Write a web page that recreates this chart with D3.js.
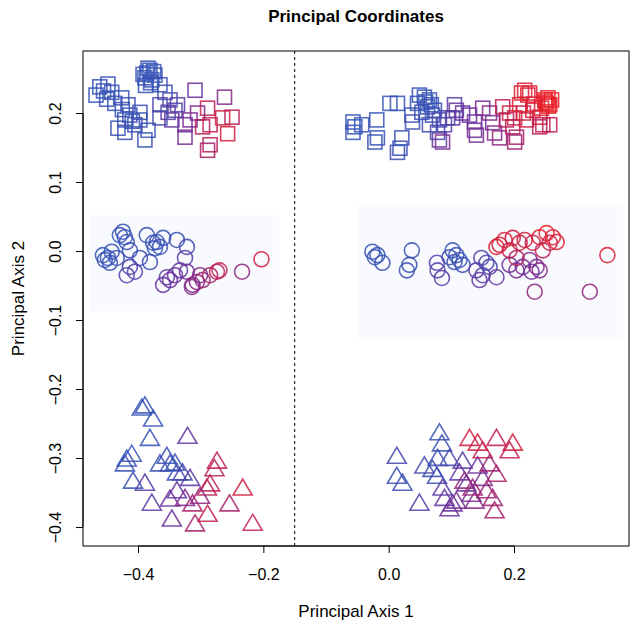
<!DOCTYPE html>
<html><head><meta charset="utf-8">
<script src="https://cdn.jsdelivr.net/npm/d3@7"></script>
<style>body{margin:0;background:#fff}svg{display:block}text{font-family:"Liberation Sans",Arial,sans-serif}</style>
</head><body>
<svg id="c" width="630" height="624"></svg>
<script>
// [axis1, axis2, colour position 0=blue .. 1=red]
const squaresLeft = [
[-0.461,0.238,0.1],[-0.448,0.242,0.1],[-0.442,0.230,0.15],[-0.467,0.226,0.1],[-0.426,0.222,0.15],
[-0.416,0.212,0.2],[-0.437,0.214,0.15],[-0.413,0.197,0.2],[-0.421,0.190,0.15],[-0.386,0.258,0.1],
[-0.381,0.262,0.1],[-0.389,0.251,0.1],[-0.378,0.248,0.12],[-0.373,0.255,0.1],[-0.384,0.265,0.1],
[-0.365,0.241,0.2],[-0.357,0.230,0.25],[-0.349,0.219,0.3],[-0.432,0.178,0.15],[-0.421,0.172,0.2],
[-0.405,0.183,0.25],[-0.397,0.190,0.2],[-0.384,0.175,0.15],[-0.389,0.161,0.15],[-0.365,0.212,0.35],
[-0.352,0.201,0.4],[-0.341,0.204,0.35],[-0.346,0.190,0.45],[-0.365,0.193,0.3],[-0.337,0.212,0.4],
[-0.309,0.233,0.5],[-0.262,0.223,0.6],[-0.289,0.207,0.85],[-0.250,0.194,0.8],[-0.265,0.193,0.9],
[-0.305,0.200,0.6],[-0.317,0.190,0.55],[-0.297,0.180,0.8],[-0.285,0.183,0.85],[-0.257,0.170,0.9],
[-0.325,0.165,0.55],[-0.285,0.154,0.8],[-0.289,0.146,0.75],[-0.325,0.183,0.5],[-0.397,0.201,0.2],
[-0.392,0.256,0.1],[-0.380,0.244,0.1],[-0.375,0.260,0.12],[-0.388,0.240,0.12],[-0.455,0.232,0.1],
[-0.450,0.220,0.12],[-0.425,0.205,0.15],[-0.409,0.188,0.2]
];
const squaresRight = [
[-0.057,0.187,0.1],[-0.054,0.180,0.1],[-0.043,0.183,0.12],[-0.057,0.172,0.1],[-0.019,0.190,0.12],
[-0.018,0.164,0.15],[-0.022,0.158,0.2],[0.018,0.149,0.25],[0.014,0.143,0.2],[0.021,0.164,0.15],
[0.002,0.214,0.1],[0.014,0.214,0.15],[0.037,0.197,0.2],[0.038,0.187,0.25],[0.049,0.226,0.1],
[0.057,0.223,0.1],[0.065,0.219,0.12],[0.046,0.214,0.1],[0.062,0.209,0.15],[0.073,0.204,0.15],
[0.053,0.201,0.2],[0.070,0.197,0.2],[0.081,0.190,0.3],[0.089,0.183,0.35],[0.065,0.183,0.25],
[0.078,0.172,0.3],[0.094,0.193,0.35],[0.081,0.161,0.45],[0.086,0.158,0.55],[0.105,0.212,0.4],
[0.108,0.204,0.45],[0.118,0.200,0.5],[0.102,0.193,0.4],[0.129,0.197,0.5],[0.137,0.187,0.5],
[0.137,0.175,0.5],[0.140,0.168,0.55],[0.150,0.207,0.55],[0.161,0.200,0.6],[0.166,0.186,0.55],
[0.169,0.171,0.6],[0.177,0.164,0.65],[0.182,0.209,0.85],[0.193,0.200,0.9],[0.198,0.180,0.8],
[0.201,0.193,0.9],[0.204,0.165,0.75],[0.212,0.229,0.95],[0.217,0.233,0.95],[0.225,0.229,0.95],
[0.230,0.204,0.95],[0.220,0.190,0.9],[0.241,0.194,0.9],[0.249,0.219,1],[0.252,0.214,1],
[0.254,0.222,1],[0.246,0.183,0.85],[0.257,0.183,0.85],[0.241,0.180,0.8],[0.201,0.158,0.7],
[0.188,0.190,0.8],[0.209,0.212,0.95],[0.260,0.219,1],[0.255,0.210,1],
[0.250,0.216,1],[0.257,0.212,1],[0.244,0.207,0.95],[0.222,0.226,0.95],[0.232,0.213,0.95],
[0.215,0.200,0.9],[0.059,0.216,0.1],[0.068,0.212,0.15]
];
const circlesLeft = [
[-0.456,-0.006,0.1],[-0.448,-0.010,0.1],[-0.453,-0.013,0.15],[-0.442,-0.001,0.1],[-0.434,-0.010,0.15],
[-0.445,-0.017,0.15],[-0.429,0.023,0.1],[-0.424,0.028,0.1],[-0.421,0.020,0.12],[-0.418,0.013,0.15],
[-0.413,0.001,0.2],[-0.386,0.023,0.1],[-0.376,0.012,0.1],[-0.370,0.013,0.12],[-0.365,0.006,0.15],
[-0.373,0.004,0.12],[-0.360,0.019,0.15],[-0.338,0.016,0.2],[-0.322,0.006,0.3],[-0.381,-0.016,0.2],
[-0.397,-0.010,0.2],[-0.413,-0.023,0.35],[-0.418,-0.035,0.35],[-0.405,-0.030,0.35],[-0.325,-0.010,0.4],
[-0.333,-0.028,0.45],[-0.354,-0.038,0.45],[-0.349,-0.042,0.5],[-0.360,-0.049,0.45],[-0.341,-0.035,0.5],
[-0.322,-0.030,0.5],[-0.313,-0.049,0.6],[-0.306,-0.045,0.65],[-0.297,-0.042,0.7],[-0.285,-0.035,0.75],
[-0.274,-0.030,0.8],[-0.270,-0.028,0.85],[-0.314,-0.052,0.6],[-0.234,-0.030,0.65],[-0.203,-0.012,0.9],
[-0.301,-0.035,0.6]
];
const circlesRight = [
[-0.026,-0.001,0.12],[-0.018,-0.006,0.12],[-0.010,-0.017,0.15],[-0.022,-0.009,0.12],[0.037,0.001,0.15],
[0.033,-0.020,0.15],[0.029,-0.028,0.2],[0.102,0.001,0.15],[0.108,-0.006,0.15],[0.097,-0.009,0.2],
[0.113,-0.013,0.15],[0.118,-0.020,0.2],[0.105,-0.016,0.2],[0.077,-0.017,0.35],[0.078,-0.028,0.35],
[0.085,-0.039,0.4],[0.148,-0.010,0.35],[0.140,-0.028,0.4],[0.145,-0.042,0.45],[0.150,-0.035,0.4],
[0.161,-0.023,0.35],[0.172,-0.038,0.45],[0.156,-0.017,0.3],[0.193,-0.020,0.5],[0.204,-0.028,0.55],
[0.214,-0.023,0.55],[0.225,-0.013,0.6],[0.236,-0.023,0.55],[0.241,-0.028,0.6],[0.228,-0.030,0.5],
[0.172,0.006,0.95],[0.185,0.016,0.95],[0.198,0.019,0.9],[0.209,0.012,0.9],[0.193,0.001,0.85],
[0.204,-0.010,0.8],[0.230,0.012,0.85],[0.241,0.020,0.95],[0.252,0.026,1],[0.262,0.020,0.95],
[0.257,0.012,0.9],[0.246,0.001,0.85],[0.268,0.013,0.95],[0.233,-0.059,0.65],[0.321,-0.059,0.65],
[0.349,-0.006,0.95],[0.177,0.009,0.9],[0.217,0.016,0.9]
];
const trianglesLeft = [
[-0.389,-0.223,0.1],[-0.394,-0.226,0.1],[-0.376,-0.242,0.12],[-0.381,-0.270,0.12],[-0.418,-0.300,0.1],
[-0.410,-0.293,0.12],[-0.421,-0.307,0.15],[-0.408,-0.332,0.15],[-0.354,-0.296,0.15],[-0.349,-0.307,0.2],
[-0.341,-0.306,0.15],[-0.338,-0.320,0.2],[-0.365,-0.307,0.25],[-0.329,-0.320,0.3],[-0.321,-0.267,0.45],
[-0.389,-0.335,0.4],[-0.378,-0.364,0.4],[-0.349,-0.358,0.5],[-0.346,-0.387,0.5],[-0.338,-0.346,0.45],
[-0.317,-0.328,0.4],[-0.313,-0.365,0.75],[-0.309,-0.394,0.75],[-0.290,-0.342,0.8],[-0.285,-0.336,0.85],
[-0.274,-0.303,0.85],[-0.278,-0.314,0.8],[-0.289,-0.380,0.85],[-0.254,-0.365,0.75],[-0.233,-0.342,0.9],
[-0.217,-0.393,0.85],[-0.325,-0.357,0.6],[-0.301,-0.354,0.65]
];
const trianglesRight = [
[0.013,-0.296,0.3],[0.013,-0.325,0.2],[0.022,-0.335,0.25],[0.049,-0.364,0.35],[0.057,-0.310,0.3],
[0.081,-0.262,0.15],[0.085,-0.278,0.2],[0.078,-0.299,0.2],[0.070,-0.315,0.25],[0.077,-0.325,0.25],
[0.086,-0.342,0.4],[0.089,-0.357,0.45],[0.102,-0.365,0.5],[0.097,-0.299,0.3],[0.118,-0.303,0.4],
[0.113,-0.320,0.45],[0.124,-0.336,0.5],[0.132,-0.351,0.55],[0.137,-0.361,0.6],[0.142,-0.310,0.5],
[0.150,-0.328,0.55],[0.108,-0.361,0.55],[0.097,-0.372,0.5],[0.129,-0.270,0.9],[0.142,-0.277,0.9],
[0.150,-0.288,0.85],[0.172,-0.270,0.85],[0.198,-0.277,0.9],[0.193,-0.288,0.85],[0.161,-0.307,0.7],
[0.172,-0.322,0.75],[0.156,-0.346,0.7],[0.166,-0.357,0.7],[0.169,-0.375,0.75],[0.121,-0.332,0.65],
[0.134,-0.342,0.7]
];
// shaded background regions behind the circle groups: [x0, x1, y0, y1]
const shadeRegions = [[-0.477,-0.174,-0.088,0.052],[-0.049,0.375,-0.128,0.068]];
const splitLine = -0.15;
const xTicks = [-0.4,-0.2,0.0,0.2];
const yTicks = [-0.4,-0.3,-0.2,-0.1,0.0,0.1,0.2];
const titleText = "Principal Coordinates";
const xLabel = "Principal Axis 1";
const yLabel = "Principal Axis 2";

const L=83,R=629,T=51,B=546;
const x = d3.scaleLinear().domain([-0.4878,0.3835]).range([L,R]);
const y = d3.scaleLinear().domain([-0.4275,0.2899]).range([B,T]);
const col = d3.piecewise(d3.interpolateRgb, ["#3056b8","#3a4cb2","#6a2e9c","#a81f68","#ea1c24"]);
const svg = d3.select("#c");
const fmt = v => (v<0?"\u2212":"") + Math.abs(v).toFixed(1);

svg.append("g").selectAll("rect").data(shadeRegions).join("rect")
  .attr("x",d=>x(d[0])).attr("y",d=>y(d[3]))
  .attr("width",d=>x(d[1])-x(d[0])).attr("height",d=>y(d[2])-y(d[3]))
  .attr("fill","#f9fafd");

svg.append("line").attr("x1",x(splitLine)).attr("x2",x(splitLine)).attr("y1",T).attr("y2",B)
  .attr("stroke","#000").attr("stroke-dasharray","3,3").attr("stroke-width",1);

const g = svg.append("g").attr("fill","none").attr("stroke-width",1.6).attr("stroke-opacity",0.85);
const sq = 14, cr = 7.5, tw = 19, th = 16;
function squares(data){
  g.append("g").selectAll("rect").data(data).join("rect")
   .attr("x",d=>x(d[0])-sq/2).attr("y",d=>y(d[1])-sq/2).attr("width",sq).attr("height",sq)
   .attr("stroke",d=>col(d[2]));
}
function circles(data){
  g.append("g").selectAll("circle").data(data).join("circle")
   .attr("cx",d=>x(d[0])).attr("cy",d=>y(d[1])).attr("r",cr)
   .attr("stroke",d=>col(d[2]));
}
function triangles(data){
  g.append("g").selectAll("path").data(data).join("path")
   .attr("d",d=>{const cx=x(d[0]),cy=y(d[1]);return `M${cx-tw/2},${cy+th/2}L${cx+tw/2},${cy+th/2}L${cx},${cy-th/2}Z`;})
   .attr("stroke",d=>col(d[2]));
}
squares(squaresLeft); squares(squaresRight);
circles(circlesLeft); circles(circlesRight);
triangles(trianglesLeft); triangles(trianglesRight);

svg.append("rect").attr("x",L).attr("y",T).attr("width",R-L).attr("height",B-T)
  .attr("fill","none").attr("stroke","#000").attr("stroke-width",1);

const xa = svg.append("g").attr("transform",`translate(0,${B})`)
  .call(d3.axisBottom(x).tickValues(xTicks).tickSize(7).tickPadding(16).tickFormat(fmt));
xa.select(".domain").attr("d",`M${x(xTicks[0])},0H${x(xTicks[xTicks.length-1])}`);
xa.selectAll("text").attr("font-size",16).attr("fill","#000").attr("font-family","Liberation Sans, Arial, sans-serif");

const ya = svg.append("g").attr("transform",`translate(${L},0)`)
  .call(d3.axisLeft(y).tickValues(yTicks).tickSize(7).tickFormat(fmt));
ya.select(".domain").attr("d",`M0,${y(yTicks[0])}V${y(yTicks[yTicks.length-1])}`);
ya.selectAll(".tick text").attr("font-size",16).attr("fill","#000").attr("font-family","Liberation Sans, Arial, sans-serif")
  .attr("x",null).attr("dy",null).attr("text-anchor","middle")
  .attr("transform","translate(-22,0) rotate(-90)");

svg.append("text").attr("x",(L+R)/2).attr("y",22).attr("text-anchor","middle")
  .attr("font-weight","bold").attr("font-size",17).text(titleText);
svg.append("text").attr("x",(L+R)/2).attr("y",617).attr("text-anchor","middle")
  .attr("font-size",17).text(xLabel);
svg.append("text").attr("transform",`translate(24,${(T+B)/2}) rotate(-90)`).attr("text-anchor","middle")
  .attr("font-size",17).text(yLabel);
</script>
</body></html>
